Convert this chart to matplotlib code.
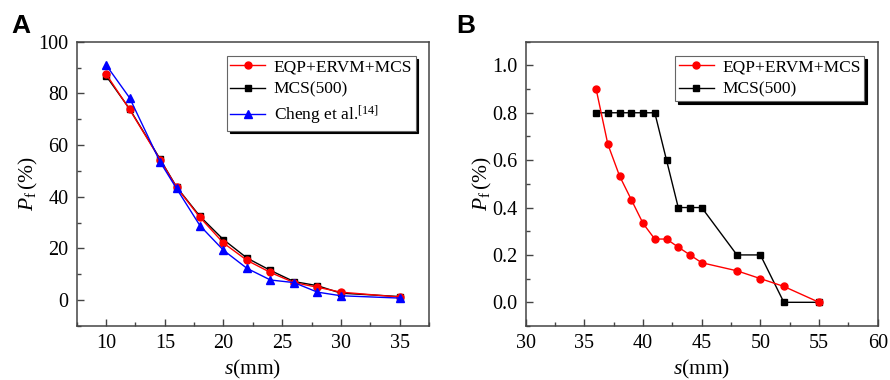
import matplotlib
matplotlib.use('Agg')
import matplotlib.pyplot as plt
from matplotlib.ticker import MultipleLocator

# panel A data
s_a = [10, 12, 14.6, 16, 18, 20, 22, 24, 26, 28, 30, 35]
pf_eqp_a = [87.5, 73.8, 54.4, 43.7, 32.0, 22.1, 15.4, 10.7, 6.8, 5.0, 3.1, 1.2]
pf_mcs_a = [86.8, 74.0, 54.6, 43.8, 32.4, 23.4, 16.3, 11.5, 7.2, 5.6, 2.7, 1.4]
pf_cheng_a = [91.0, 78.3, 53.5, 43.2, 28.8, 19.3, 12.3, 7.8, 6.8, 3.1, 1.7, 0.8]

# panel B data
s_b = [36, 37, 38, 39, 40, 41, 42, 43, 44, 45, 48, 50, 52, 55]
pf_eqp_b = [0.900, 0.667, 0.533, 0.433, 0.333, 0.267, 0.267, 0.233, 0.200,
            0.167, 0.133, 0.100, 0.067, 0.0]
pf_mcs_b = [0.8, 0.8, 0.8, 0.8, 0.8, 0.8, 0.6, 0.4, 0.4, 0.4, 0.2, 0.2, 0.0, 0.0]

labels = ['EQP+ERVM+MCS', 'MCS(500)', 'Cheng et al.$^{[14]}$']

plt.rcParams['font.family'] = 'Liberation Serif'
plt.rcParams['mathtext.fontset'] = 'custom'
plt.rcParams['mathtext.rm'] = 'Liberation Serif'
plt.rcParams['mathtext.it'] = 'Liberation Serif:italic'

SPINE = '#444444'


def style_axes(ax):
    for sp in ax.spines.values():
        sp.set_color(SPINE)
        sp.set_linewidth(1.1)
    ax.tick_params(which='both', direction='in', top=False, right=False,
                   labelsize=14.5, color=SPINE, width=1.0)
    ax.tick_params(which='major', length=5, pad=6)
    ax.tick_params(which='minor', length=3)
    ax.set_xlabel('$s$(mm)', fontsize=15.5, labelpad=3)
    ax.set_ylabel(r'$P_\mathrm{f}\,$(%)', fontsize=15.5, labelpad=-1)


def add_legend(ax):
    leg = ax.legend(loc='upper right', bbox_to_anchor=(0.962, 0.95),
                    fontsize=12.5, frameon=True, fancybox=False,
                    shadow={'color': 'black', 'alpha': 1.0},
                    borderpad=0.2, labelspacing=0.35, handlelength=2.0,
                    handletextpad=0.5, borderaxespad=0.0)
    leg.get_frame().set_edgecolor('#666666')
    leg.get_frame().set_linewidth(0.8)
    return leg


fig = plt.figure(figsize=(8.9, 3.8), dpi=100)
ax1 = fig.add_axes([0.0862, 0.1421, 0.3958, 0.7482])
ax2 = fig.add_axes([0.5907, 0.1421, 0.3955, 0.7482])

ax1.plot(s_a, pf_eqp_a, '-o', color='red', lw=1.0, ms=5, label=labels[0], zorder=4)
ax1.plot(s_a, pf_mcs_a, '-s', color='black', lw=1.0, ms=4, label=labels[1], zorder=3)
ax1.plot(s_a, pf_cheng_a, '-^', color='blue', lw=1.0, ms=5.5, label=labels[2], zorder=5)
ax1.set_xlim(7.5, 37.5)
ax1.set_ylim(-10, 100)
ax1.xaxis.set_major_locator(MultipleLocator(5))
ax1.xaxis.set_minor_locator(MultipleLocator(2.5))
ax1.yaxis.set_major_locator(MultipleLocator(20))
ax1.yaxis.set_minor_locator(MultipleLocator(10))
style_axes(ax1)
add_legend(ax1)

ax2.plot(s_b, pf_eqp_b, '-o', color='red', lw=1.0, ms=5, label=labels[0], zorder=4)
ax2.plot(s_b, pf_mcs_b, '-s', color='black', lw=1.0, ms=4, label=labels[1], zorder=3)
ax2.set_xlim(30, 60)
ax2.set_ylim(-0.1, 1.1)
ax2.xaxis.set_major_locator(MultipleLocator(5))
ax2.xaxis.set_minor_locator(MultipleLocator(2.5))
ax2.yaxis.set_major_locator(MultipleLocator(0.2))
ax2.yaxis.set_minor_locator(MultipleLocator(0.1))
ax2.yaxis.set_major_formatter(plt.FormatStrFormatter('%.1f'))
style_axes(ax2)
add_legend(ax2)

fig.text(0.013, 0.912, 'A', fontsize=19, fontweight='bold', family='Liberation Sans')
fig.text(0.513, 0.912, 'B', fontsize=19, fontweight='bold', family='Liberation Sans')

fig.savefig('out.png', dpi=100)
